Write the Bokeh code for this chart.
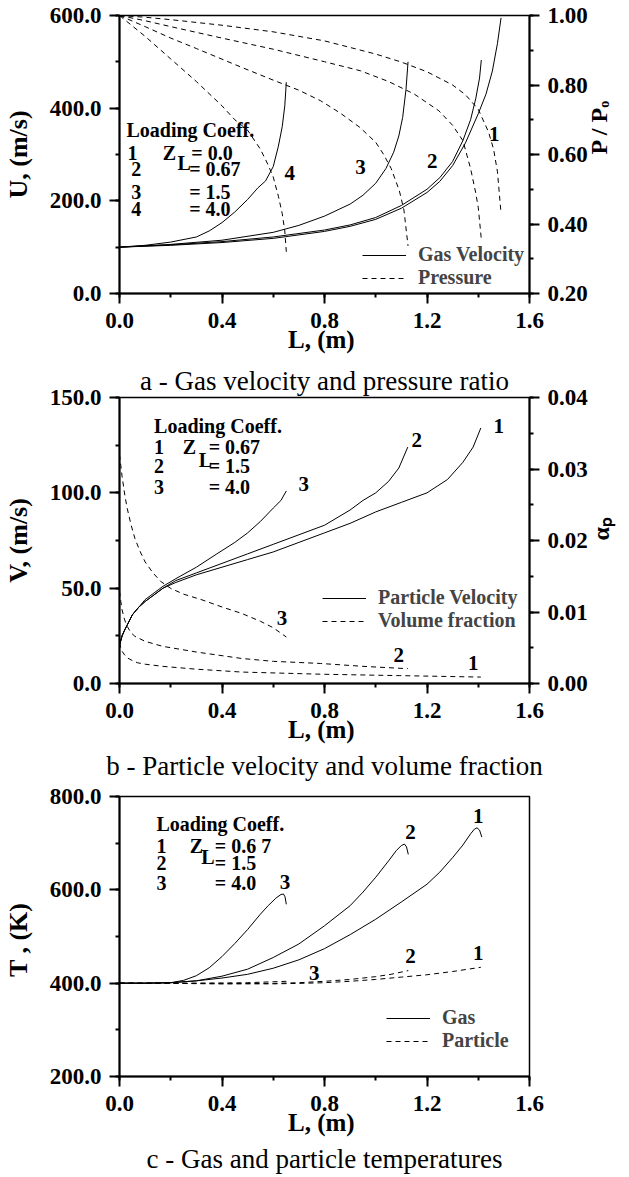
import math
from bokeh.plotting import figure
from bokeh.models import (Range1d, LinearAxis, SingleIntervalTicker, PrintfTickFormatter,
                          Legend, LegendItem, Title)
from bokeh.layouts import column
from bokeh.core.properties import value
from bokeh.embed import file_html
from bokeh.resources import INLINE

FONT = "Liberation Serif"

# ---------------- Panel a : gas velocity (U, m/s) and pressure ratio P/P0 ----------------
la_u1 = [0, 0.2, 0.4, 0.6, 0.8, 0.9, 1.0, 1.1, 1.2, 1.25, 1.3, 1.35, 1.40, 1.43, 1.455, 1.475, 1.489]
ua_u1 = [100, 104, 110, 119, 134, 145, 160, 184, 218, 242, 276, 325, 388, 430, 480, 540, 595]
la_u2 = [0, 0.2, 0.4, 0.6, 0.8, 0.9, 1.0, 1.1, 1.2, 1.25, 1.3, 1.34, 1.37, 1.39, 1.405, 1.412]
ua_u2 = [100, 105, 112, 122, 137, 148, 164, 190, 225, 250, 285, 330, 375, 420, 465, 504]
la_u3 = [0, 0.2, 0.4, 0.6, 0.7, 0.8, 0.9, 0.95, 1.0, 1.04, 1.07, 1.09, 1.105, 1.118, 1.126]
ua_u3 = [100, 106, 115, 132, 147, 167, 193, 212, 238, 270, 305, 340, 380, 440, 500]
la_u4 = [0, 0.1, 0.2, 0.3, 0.35, 0.4, 0.45, 0.5, 0.54, 0.57, 0.6, 0.62, 0.635, 0.645, 0.651]
ua_u4 = [100, 104, 111, 122, 135, 153, 176, 203, 228, 243, 274, 318, 360, 405, 456]

la_p1 = [0, 0.1, 0.2, 0.4, 0.6, 0.8, 1.0, 1.1, 1.2, 1.3, 1.35, 1.40, 1.44, 1.46, 1.475, 1.489]
pa_p1 = [1.0, 0.995, 0.988, 0.972, 0.953, 0.927, 0.889, 0.866, 0.838, 0.80, 0.772, 0.73, 0.665, 0.615, 0.55, 0.43]
la_p2 = [0, 0.1, 0.2, 0.4, 0.6, 0.8, 0.94, 1.05, 1.15, 1.246, 1.3, 1.34, 1.37, 1.39, 1.40, 1.412]
pa_p2 = [1.0, 0.985, 0.968, 0.935, 0.903, 0.867, 0.841, 0.81, 0.774, 0.726, 0.684, 0.64, 0.56, 0.49, 0.448, 0.356]
la_p3 = [0, 0.1, 0.2, 0.3, 0.476, 0.6, 0.7, 0.784, 0.86, 0.938, 1.0, 1.03, 1.06, 1.092, 1.11, 1.126]
pa_p3 = [1.0, 0.968, 0.935, 0.905, 0.851, 0.814, 0.785, 0.755, 0.72, 0.678, 0.635, 0.601, 0.56, 0.496, 0.44, 0.337]
la_p4 = [0, 0.05, 0.1, 0.2, 0.3, 0.4, 0.45, 0.5, 0.55, 0.58, 0.6, 0.62, 0.635, 0.645, 0.651]
pa_p4 = [1.0, 0.97, 0.94, 0.875, 0.81, 0.74, 0.70, 0.67, 0.615, 0.57, 0.535, 0.48, 0.43, 0.38, 0.32]

# ---------------- Panel b : particle velocity (V, m/s) and volume fraction ----------------
lb_v1 = [0, 0.01, 0.02, 0.035, 0.05, 0.075, 0.1, 0.13, 0.17, 0.22, 0.3, 0.4, 0.5, 0.6, 0.7,
         0.8, 0.9, 1.0, 1.1, 1.2, 1.28, 1.34, 1.38, 1.41]
vb_v1 = [20, 25, 28, 32, 36, 40, 43, 46, 50, 53, 57, 61, 65, 69, 74,
         79, 84, 90, 95, 100, 107, 116, 124, 134]
lb_v2 = [0, 0.01, 0.02, 0.035, 0.05, 0.075, 0.1, 0.13, 0.17, 0.22, 0.3, 0.4, 0.5, 0.6, 0.7,
         0.8, 0.9, 0.95, 1.0, 1.05, 1.09, 1.125]
vb_v2 = [20, 25, 28, 32, 36, 40, 43, 46, 50, 54, 58, 63, 68, 73, 78,
         83, 91, 96, 100, 106, 113, 124]
lb_v3 = [0, 0.01, 0.02, 0.035, 0.05, 0.075, 0.1, 0.13, 0.17, 0.22, 0.3, 0.38, 0.45, 0.5,
         0.55, 0.6, 0.63, 0.651]
vb_v3 = [20, 25, 28, 32, 36, 40, 44, 47, 51, 55, 61, 68, 74, 79,
         85, 92, 96, 101]

lb_a1 = [0, 0.005, 0.01, 0.02, 0.03, 0.045, 0.07, 0.1, 0.168, 0.3, 0.477, 0.785, 1.094, 1.41]
ab_a1 = [0.0057, 0.005, 0.0045, 0.004, 0.0036, 0.0033, 0.0029, 0.0027, 0.0024, 0.002,
         0.0016, 0.0013, 0.0011, 0.0009]
lb_a2 = [0, 0.005, 0.01, 0.02, 0.03, 0.045, 0.06, 0.1, 0.168, 0.3, 0.477, 0.6, 0.785, 0.95,
         1.109, 1.125]
ab_a2 = [0.0129, 0.0115, 0.0103, 0.0089, 0.008, 0.0071, 0.0066, 0.0059, 0.0052, 0.0044,
         0.0035, 0.0031, 0.0028, 0.0024, 0.0021, 0.0021]
lb_a3 = [0, 0.005, 0.01, 0.02, 0.03, 0.045, 0.06, 0.08, 0.1, 0.13, 0.16, 0.2, 0.25, 0.322,
         0.4, 0.477, 0.55, 0.6, 0.651]
ab_a3 = [0.032, 0.0305, 0.029, 0.0265, 0.0245, 0.0222, 0.0203, 0.0185, 0.017, 0.0155,
         0.0143, 0.0133, 0.0125, 0.0117, 0.0107, 0.0098, 0.0087, 0.0078, 0.0065]

# ---------------- Panel c : gas and particle temperatures (T, K) ----------------
lc_g1 = [0, 0.1, 0.2, 0.3, 0.4, 0.5, 0.6, 0.7, 0.8, 0.9, 1.0, 1.1, 1.2, 1.25, 1.3, 1.34,
         1.37, 1.385, 1.395, 1.405, 1.414]
tc_g1 = [400, 400, 401, 405, 411, 419, 432, 450, 474, 504, 537, 574, 612, 638, 669, 696,
         720, 730, 733, 728, 713]
lc_g2 = [0, 0.1, 0.2, 0.3, 0.4, 0.5, 0.6, 0.7, 0.8, 0.9, 0.95, 1.0, 1.05, 1.08, 1.1, 1.112,
         1.12, 1.127]
tc_g2 = [400, 400, 401, 405, 415, 430, 455, 484, 523, 566, 595, 627, 662, 684, 695, 698,
         692, 676]
lc_g3 = [0, 0.1, 0.2, 0.25, 0.3, 0.35, 0.4, 0.45, 0.5, 0.55, 0.58, 0.61, 0.63, 0.64, 0.646, 0.651]
tc_g3 = [400, 400, 401, 406, 416, 433, 457, 485, 515, 548, 566, 582, 590, 591, 585, 569]

lc_p1 = [0, 0.2, 0.4, 0.6, 0.7, 0.8, 0.9, 1.0, 1.1, 1.2, 1.3, 1.41]
tc_p1 = [400, 399.5, 398.5, 398.5, 399.5, 401, 404, 408, 413, 418, 425, 434]
lc_p2 = [0, 0.2, 0.4, 0.6, 0.7, 0.8, 0.9, 1.0, 1.06, 1.127]
tc_p2 = [400, 399.5, 399, 399.5, 401, 404, 408, 414, 419, 427]
lc_p3 = [0, 0.2, 0.4, 0.5, 0.6, 0.651]
tc_p3 = [400, 400, 400.5, 401, 403, 404]

x_ticks_interval = 0.4
DASH = "5 4"
TICK_SIZE = "23px"
AXLBL_SIZE = "25px"
YLBL_SIZE = "26px"
RLBL_SIZE = "24px"
CAP_SIZE = "27px"
TXT_SIZE = "20px"


def style_axis(ax, interval, fmt, standoff, label, label_standoff, lbl_size=AXLBL_SIZE):
    ax.ticker = SingleIntervalTicker(interval=interval, num_minor_ticks=2)
    ax.formatter = PrintfTickFormatter(format=fmt)
    ax.major_label_text_font = FONT
    ax.major_label_text_font_style = "bold"
    ax.major_label_text_font_size = TICK_SIZE
    ax.major_label_text_color = "black"
    ax.major_label_standoff = standoff
    ax.axis_label = label
    ax.axis_label_text_font = FONT
    ax.axis_label_text_font_style = "bold"
    ax.axis_label_text_font_size = lbl_size
    ax.axis_label_text_color = "black"
    ax.axis_label_standoff = label_standoff
    ax.axis_line_width = 2
    ax.axis_line_color = "black"
    ax.major_tick_line_width = 2
    ax.major_tick_line_color = "black"
    ax.major_tick_out = 10
    ax.major_tick_in = 0
    ax.minor_tick_line_width = 2
    ax.minor_tick_line_color = "black"
    ax.minor_tick_out = 4
    ax.minor_tick_in = 0


def make_fig(h, yr, top, bottom, left, right):
    p = figure(width=629, height=h, x_range=Range1d(0, 1.6), y_range=Range1d(*yr),
               output_backend="svg", toolbar_location=None, title=None,
               min_border_top=top, min_border_bottom=bottom,
               min_border_left=left, min_border_right=right)
    p.xgrid.visible = False
    p.ygrid.visible = False
    p.outline_line_color = "black"
    p.outline_line_width = 1.5
    p.background_fill_color = "white"
    p.border_fill_color = "white"
    return p


def add_texts(p, xs, ys, texts, align="left", size=TXT_SIZE):
    p.text(x=xs, y=ys, text=texts, text_font=value(FONT), text_font_style="bold",
           text_font_size=size, text_align=align, text_baseline="middle",
           text_color="black")


def make_legend(p, items, loc):
    leg = Legend(items=[LegendItem(label=t, renderers=[r]) for t, r in items], location=loc,
                 glyph_width=44, glyph_height=18, label_standoff=12, label_height=18,
                 spacing=-2, padding=0, margin=0, border_line_alpha=0,
                 background_fill_alpha=0, label_text_font=FONT,
                 label_text_font_style="bold", label_text_font_size=TXT_SIZE)
    p.add_layout(leg)


def caption(text, standoff):
    return Title(text=text, align="center", text_font=FONT, text_font_style="normal",
                 text_font_size=CAP_SIZE, text_color="black", standoff=standoff)


# ================= Panel a =================
pa = make_fig(362, (0, 600), 15, 69, 116, 96)
pa.extra_y_ranges = {"p": Range1d(0.2, 1.0)}
style_axis(pa.xaxis[0], x_ticks_interval, "%.1f", 9, "L,  (m)", -5)
style_axis(pa.yaxis[0], 200, "%.1f", 8, "U, (m/s)", 14, YLBL_SIZE)
ax_r = LinearAxis(y_range_name="p")
style_axis(ax_r, 0.2, "%.2f", 8, "P / P\u2092", 8, RLBL_SIZE)
ax_r.axis_label_orientation = math.pi / 2
pa.add_layout(ax_r, "right")

ra = []
for xs, ys in [(la_u1, ua_u1), (la_u2, ua_u2), (la_u3, ua_u3), (la_u4, ua_u4)]:
    ra.append(pa.line(xs, ys, line_color="black", line_width=1))
rp = []
for xs, ys in [(la_p1, pa_p1), (la_p2, pa_p2), (la_p3, pa_p3), (la_p4, pa_p4)]:
    rp.append(pa.line(xs, ys, line_color="black", line_width=1, line_dash=DASH, y_range_name="p"))

add_texts(pa, [0.027], [352], ["Loading Coeff."])
add_texts(pa, [0.031, 0.046, 0.046, 0.046], [304, 268, 218, 183], ["1", "2", "3", "4"])
add_texts(pa, [0.169], [304], ["Z"])
add_texts(pa, [0.226], [281], ["L"])
add_texts(pa, [0.280, 0.272, 0.272, 0.272], [304, 268, 218, 183], ["= 0.0", "= 0.67", "= 1.5", "= 4.0"])
add_texts(pa, [1.462, 1.22, 0.94, 0.664], [345, 287, 272, 259], ["1", "2", "3", "4"],
          align="center", size="21px")
make_legend(pa, [("Gas Velocity", ra[0]), ("Pressure", rp[0])], (243, 4))

# ================= Panel b =================
pb = make_fig(423, (0, 150), 35, 102, 118, 97)
pb.extra_y_ranges = {"a": Range1d(0, 0.04)}
style_axis(pb.xaxis[0], x_ticks_interval, "%.1f", 9, "L,  (m)", -5)
style_axis(pb.yaxis[0], 50, "%.1f", 8, "V, (m/s)", 14, YLBL_SIZE)
ax_rb = LinearAxis(y_range_name="a")
style_axis(ax_rb, 0.01, "%.2f", 8, "\u03b1\u209a", 10, RLBL_SIZE)
ax_rb.axis_label_orientation = math.pi / 2
pb.add_layout(ax_rb, "right")
pb.add_layout(caption("a - Gas velocity and pressure ratio", 3), "above")
pb.add_layout(caption("b - Particle velocity and volume fraction", 6), "below")

rv = []
for xs, ys in [(lb_v1, vb_v1), (lb_v2, vb_v2), (lb_v3, vb_v3)]:
    rv.append(pb.line(xs, ys, line_color="black", line_width=1))
rf = []
for xs, ys in [(lb_a1, ab_a1), (lb_a2, ab_a2), (lb_a3, ab_a3)]:
    rf.append(pb.line(xs, ys, line_color="black", line_width=1, line_dash=DASH, y_range_name="a"))

add_texts(pb, [0.135], [135.3], ["Loading Coeff."])
add_texts(pb, [0.135, 0.135, 0.135], [124.3, 114.3, 102.8], ["1", "2", "3"])
add_texts(pb, [0.247], [124.3], ["Z"])
add_texts(pb, [0.309], [117], ["L"])
add_texts(pb, [0.348, 0.348, 0.348], [124.3, 114.3, 102.8], ["= 0.67", "= 1.5", "= 4.0"])
add_texts(pb, [1.48, 1.16, 0.719, 0.634, 1.09, 1.38], [135.3, 127.5, 104.4, 34.1, 14.7, 10.5],
          ["1", "2", "3", "3", "2", "1"], align="center", size="21px")
make_legend(pb, [("Particle Velocity", rv[0]), ("Volume fraction", rf[0])], (203, 51))

# ================= Panel c =================
pc = make_fig(392, (200, 800), 11, 100, 117, 91)
style_axis(pc.xaxis[0], x_ticks_interval, "%.1f", 9, "L,  (m)", -5)
style_axis(pc.yaxis[0], 200, "%.1f", 8, "T ,  (K)", 14, YLBL_SIZE)
pc.add_layout(caption("c - Gas and particle temperatures", 7), "below")

rg = []
for xs, ys in [(lc_g1, tc_g1), (lc_g2, tc_g2), (lc_g3, tc_g3)]:
    rg.append(pc.line(xs, ys, line_color="black", line_width=1))
rt = []
for xs, ys in [(lc_p1, tc_p1), (lc_p2, tc_p2), (lc_p3, tc_p3)]:
    rt.append(pc.line(xs, ys, line_color="black", line_width=1, line_dash=DASH))

add_texts(pc, [0.144], [742], ["Loading Coeff."])
add_texts(pc, [0.144, 0.144, 0.144], [695, 657, 614], ["1", "2", "3"])
add_texts(pc, [0.274], [695], ["Z"])
add_texts(pc, [0.319], [670], ["L"])
add_texts(pc, [0.372, 0.372, 0.372], [695, 657, 614], ["= 0.6 7", "= 1.5", "= 4.0"])
add_texts(pc, [1.40, 1.136, 0.646, 1.40, 1.136, 0.76], [759, 723, 616, 465, 458, 422],
          ["1", "2", "3", "1", "2", "3"], align="center", size="21px")
make_legend(pc, [("Gas", rg[0]), ("Particle", rt[0])], (267, 24))

layout = column(pa, pb, pc, spacing=0)
open("out.html", "w").write(file_html(layout, INLINE))
